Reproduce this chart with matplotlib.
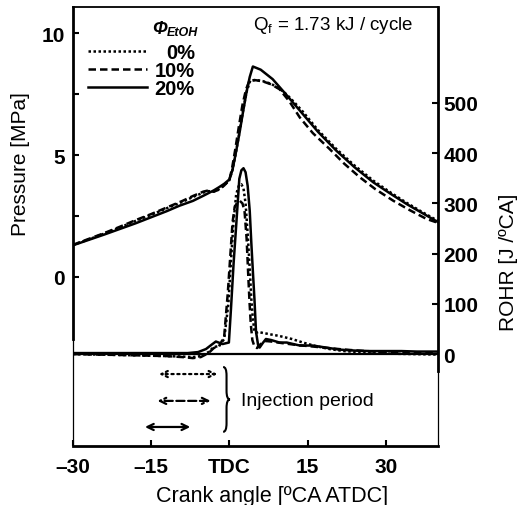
import matplotlib
matplotlib.use('Agg')
import matplotlib.pyplot as plt
from matplotlib.path import Path
from matplotlib.patches import PathPatch

plt.rcParams['font.family'] = ['Liberation Sans', 'DejaVu Sans']
plt.rcParams['mathtext.fontset'] = 'custom'
plt.rcParams['mathtext.rm'] = 'Liberation Sans'

# pressure traces [MPa] vs crank angle [deg ATDC]
ca_p20 = [-30, -27, -24, -21, -18, -15, -12, -9.6, -7, -5, -3, -2, -1, 0, 0.6, 1.2, 1.9, 2.6, 3.3, 3.9,
          4.5, 6, 8.3, 11, 14, 17, 20.5, 24, 27.6, 31, 34, 37, 40]
p20 = [1.30, 1.52, 1.74, 1.97, 2.20, 2.45, 2.70, 2.92, 3.12, 3.33, 3.55, 3.68, 3.82, 4.0, 4.40, 5.05,
       5.86, 6.75, 7.60, 8.20, 8.63, 8.50, 8.11, 7.45, 6.70, 5.95, 5.18, 4.50, 3.88, 3.40, 2.99, 2.62, 2.25]
ca_p10 = [-30, -27, -24, -21, -18, -15, -12, -9, -7, -5, -4, -3, -2, -1, 0, 0.5, 1.1, 1.8, 2.5, 3.2,
          3.85, 5, 6.4, 8, 9.6, 11.5, 13.5, 16, 19.2, 22, 25, 28, 31.4, 34.5, 37.8, 40]
p10 = [1.32, 1.56, 1.80, 2.06, 2.33, 2.58, 2.85, 3.12, 3.32, 3.50, 3.55, 3.50, 3.58, 3.75, 3.98, 4.45,
       5.20, 6.15, 7.05, 7.70, 8.05, 8.07, 8.02, 7.90, 7.70, 7.20, 6.54, 5.90, 5.25, 4.65, 4.09, 3.60,
       3.13, 2.75, 2.38, 2.22]
ca_p0 = [-30, -27, -24, -21, -18, -15, -12, -9, -7, -5, -4, -3, -2, -1, 0, 0.6, 1.2, 1.9, 2.6, 3.3,
         4.0, 5, 6.4, 8, 9.6, 11, 12.5, 14, 17, 20.5, 24, 27.6, 31, 34, 37, 40]
p0 = [1.31, 1.54, 1.78, 2.03, 2.30, 2.55, 2.82, 3.08, 3.28, 3.46, 3.52, 3.50, 3.60, 3.76, 3.97, 4.40,
      5.05, 5.90, 6.80, 7.60, 8.05, 8.08, 8.03, 7.92, 7.72, 7.48, 7.15, 6.80, 6.02, 5.25, 4.57, 3.95,
      3.45, 3.04, 2.66, 2.30]

# rate of heat release [J/degCA]
ca_r20 = [-30, -20, -12, -8, -6, -4.5, -3.5, -2.6, -1.3, -0.1, 0.3, 0.8, 1.3, 1.9, 2.3, 2.7, 3.1, 3.5,
          3.9, 4.2, 4.5, 4.8, 5.1, 5.5, 5.8, 6.4, 7.0, 8, 9.6, 11, 13.5, 16, 18.5, 21, 24, 27, 30, 33, 36, 40]
r20 = [2, 2, 2, 2, 4, 10, 18, 25, 20, 23, 90, 180, 256, 349, 366, 370, 362, 335, 285, 222, 165, 110,
       45, 18, 13, 22, 30, 28, 23, 23, 17, 17, 13, 9, 7, 6, 6, 6, 5, 5]
ca_r10 = [-30, -20, -12, -9, -7, -5.5, -4, -3, -2, -1, -0.3, 0.2, 0.6, 1.0, 1.5, 2.0, 2.5, 2.9, 3.3,
          3.6, 3.85, 4.1, 4.4, 4.8, 5.3, 6, 7, 8, 10, 13, 16, 19, 22, 26, 30, 35, 40]
r10 = [0, -2, -4, -6, -8, -6, 2, 12, 15, 35, 123, 200, 262, 292, 302, 305, 300, 285, 230, 160, 105, 60,
       28, 15, 12, 20, 26, 25, 22, 18, 15, 12, 9, 6, 4, 3, 2]
ca_r0 = [-30, -20, -12, -9, -7, -5.5, -4, -3, -2, -1, -0.2, 0.3, 0.8, 1.3, 1.8, 2.3, 2.7, 3.1, 3.5,
         3.9, 4.2, 4.5, 4.8, 5.1, 5.5, 6.5, 8, 9.6, 12, 14.1, 16.5, 19.2, 22, 26, 30, 35, 40]
r0 = [0, -2, -4, -5, -6, -4, 4, 14, 16, 30, 100, 185, 265, 318, 335, 338, 330, 300, 240, 170, 110, 70,
      46, 42, 44, 42, 39, 36, 30, 23, 16, 10, 6, 3, 1, 0, -1]

# injection periods [deg ATDC]: 0 %, 10 %, 20 %
inj_start = [-13.5, -13.8, -16.2]
inj_end = [-2.3, -3.6, -7.5]

labels = ['0%', '10%', '20%']
dot = (0, (1, 1))
dash = (0, (3, 1.6))

fig = plt.figure(figsize=(5.18, 5.06), dpi=100)
ax = fig.add_axes([0.1409, 0.1166, 0.7046, 0.8676])
ax2 = ax.twinx()

ax.plot(ca_p0, p0, color='k', lw=1.8, linestyle=dot)
ax.plot(ca_p10, p10, color='k', lw=1.8, linestyle=dash)
ax.plot(ca_p20, p20, color='k', lw=1.8)
ax2.plot(ca_r0, r0, color='k', lw=1.8, linestyle=dot)
ax2.plot(ca_r10, r10, color='k', lw=1.8, linestyle=dash)
ax2.plot(ca_r20, r20, color='k', lw=1.8)
ax2.axhline(0, color='k', lw=1.6)

ax.set_xlim(-30, 40)
ax.set_ylim(-6.93, 11.07)
ax2.set_ylim(-183, 691)

ax.set_xticks([-30, -15, 0, 15, 30])
ax.set_xticklabels(['\u201330', '\u201315', 'TDC', '15', '30'])
ax.set_yticks([0, 5, 10])
ax.set_yticks([2.5, 7.5], minor=True)
ax2.set_yticks([0, 100, 200, 300, 400, 500])

ax.tick_params(axis='x', direction='in', length=4, width=1.5, pad=8, labelsize=15)
ax.tick_params(axis='y', which='both', direction='in', length=4, width=1.5, pad=6, labelsize=15)
ax2.tick_params(axis='y', direction='in', length=4, width=1.5, pad=4, labelsize=15)
for t in ax.get_xticklabels() + ax.get_yticklabels() + ax2.get_yticklabels():
    t.set_fontweight('bold')

# frame: thick parts plus thin continuation in the lower panel
for s in ax2.spines.values():
    s.set_visible(False)
ax.spines['right'].set_visible(False)
ax2.spines['right'].set_visible(True)
ax2.spines['right'].set_linewidth(2)
ax2.spines['right'].set_bounds(-34, 691)
ax.spines['left'].set_linewidth(2)
ax.spines['left'].set_bounds(-2.54, 11.07)
ax.spines['bottom'].set_linewidth(2)
ax.spines['top'].set_linewidth(1.3)
ax.plot([0, 0], [0, 0.244], transform=ax.transAxes, color='k', lw=0.9, clip_on=False)
ax.plot([1, 1], [0, 0.171], transform=ax.transAxes, color='k', lw=0.9, clip_on=False)

ax.set_xlabel('Crank angle [\u00baCA ATDC]', fontsize=15.5)
ax.xaxis.set_label_coords(0.545, -0.088)
ax.set_ylabel('Pressure [MPa]', fontsize=15)
ax.yaxis.set_label_coords(-0.118, 0.645)
ax2.set_ylabel('ROHR [J /\u00baCA]', fontsize=15)
ax2.yaxis.set_label_coords(1.168, 0.42)

# legend
ax.text(0.258, 0.950, '\u03a6', transform=ax.transAxes, fontsize=13, fontweight='bold',
        fontstyle='italic', ha='right', va='center')
ax.text(0.258, 0.944, 'EtOH', transform=ax.transAxes, fontsize=9, fontweight='bold',
        fontstyle='italic', ha='left', va='center')
for ls, lab, yy in zip([dot, dash, '-'], labels, [0.900, 0.859, 0.818]):
    ax.plot([0.041, 0.203], [yy, yy], transform=ax.transAxes, color='k', lw=1.8, linestyle=ls)
    ax.text(0.334, yy - 0.004, lab, transform=ax.transAxes, fontsize=14.5, fontweight='bold',
            ha='right', va='center')

ax.text(0.493, 0.959, 'Q$_\\mathrm{f}$ = 1.73 kJ / cycle', transform=ax.transAxes, fontsize=13.5,
        ha='left', va='center')

# injection periods
for s, e, ls, yy in zip(inj_start, inj_end, [':', '--', '-'], [-3.98, -5.08, -6.15]):
    ax.annotate('', xy=(s, yy), xytext=(e, yy),
                arrowprops=dict(arrowstyle='<->,head_length=0.45,head_width=0.22', lw=1.6,
                                linestyle=ls, color='k', shrinkA=0, shrinkB=0))

bx, bw, btop, bbot, br = -1.2, 1.3, -3.69, -6.35, 0.35
bm = (btop + bbot) / 2
verts = [(bx, btop), (bx + bw / 2, btop), (bx + bw / 2, btop - br),
         (bx + bw / 2, bm + br),
         (bx + bw / 2, bm), (bx + bw, bm),
         (bx + bw / 2, bm), (bx + bw / 2, bm - br),
         (bx + bw / 2, bbot + br),
         (bx + bw / 2, bbot), (bx, bbot)]
codes = [Path.MOVETO, Path.CURVE3, Path.CURVE3, Path.LINETO, Path.CURVE3, Path.CURVE3,
         Path.CURVE3, Path.CURVE3, Path.LINETO, Path.CURVE3, Path.CURVE3]
ax.add_patch(PathPatch(Path(verts, codes), facecolor='none', edgecolor='k', lw=1.5))
ax.text(2.3, -5.08, 'Injection period', fontsize=14, ha='left', va='center')

fig.savefig('out.png', dpi=100)
